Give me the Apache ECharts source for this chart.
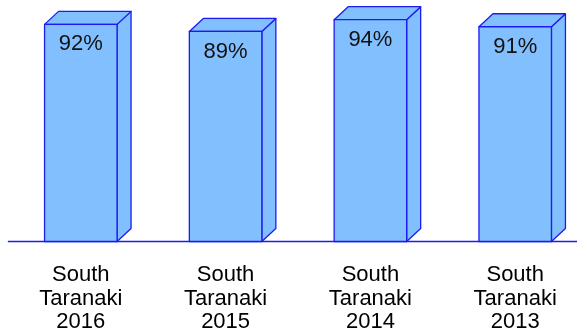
<!DOCTYPE html>
<html>
<head>
<meta charset="utf-8">
<script src="https://cdn.jsdelivr.net/npm/echarts@6/dist/echarts.min.js"></script>
<style>
  html, body { margin: 0; padding: 0; background: #fff; }
  #chart { width: 577px; height: 334px; }
</style>
</head>
<body>
<div id="chart"></div>
<script>
// Share of responses per year
var categories = ['South\nTaranaki\n2016', 'South\nTaranaki\n2015', 'South\nTaranaki\n2014', 'South\nTaranaki\n2013'];
var values = [92, 89, 94, 91];
var valueLabels = ['92%', '89%', '94%', '91%'];

var FILL = '#82bfff';
var EDGE = '#1c1cf0';
var FONT = '"Liberation Sans", Arial, Helvetica, sans-serif';

var BAR_W = 72.5;   // front face width
var DX = 14;        // depth offset to the right
var DY = 13;        // depth offset upwards

function renderBar(params, api) {
  var idx = api.value(0);
  var top = api.coord([idx, api.value(1)]);
  var base = api.coord([idx, 0]);
  var x0 = top[0] - BAR_W / 2;
  var x1 = top[0] + BAR_W / 2;
  var yT = top[1];
  var yB = base[1];
  var style = { fill: FILL, stroke: EDGE, lineWidth: 1.3, lineJoin: 'round' };
  return {
    type: 'group',
    children: [
      { type: 'polygon', shape: { points: [[x1, yB], [x1 + DX, yB - DY], [x1 + DX, yT - DY], [x1, yT]] }, style: style },
      { type: 'polygon', shape: { points: [[x0, yT], [x0 + DX, yT - DY], [x1 + DX, yT - DY], [x1, yT]] }, style: style },
      { type: 'rect', shape: { x: x0, y: yT, width: BAR_W, height: yB - yT }, style: style },
      {
        type: 'text',
        style: {
          x: top[0], y: yT + 9,
          text: valueLabels[idx],
          fill: '#111', font: '22px ' + FONT,
          textAlign: 'center', textVerticalAlign: 'top'
        }
      }
    ]
  };
}

// Band of 144.8px per bar; the plot runs from x=8.4 to the right edge
var GRID_LEFT = 8.4;
var BAND = 144.8;
var xMax = -0.5 + (577 - GRID_LEFT) / BAND;

var chart = echarts.init(document.getElementById('chart'), null, { renderer: 'canvas' });
chart.setOption({
  animation: false,
  grid: { left: GRID_LEFT, top: 5.5, right: 0, height: 236 },
  xAxis: {
    type: 'value',
    min: -0.5,
    max: xMax,
    splitLine: { show: false },
    axisLine: { show: true, onZero: false, lineStyle: { color: EDGE, width: 1.3 } },
    axisTick: { show: false },
    axisLabel: {
      customValues: categories.map(function (c, i) { return i; }),
      formatter: function (v) { return categories[Math.round(v)]; },
      margin: 22,
      color: '#000',
      fontSize: 22,
      lineHeight: 23.5,
      fontFamily: FONT,
      align: 'center'
    }
  },
  yAxis: { type: 'value', min: 0, max: 100, show: false, splitLine: { show: false } },
  series: [{
    type: 'custom',
    renderItem: renderBar,
    clip: false,
    data: values.map(function (v, i) { return [i, v]; }),
    encode: { x: 0, y: 1 },
    z: 3
  }]
});
</script>
</body>
</html>
